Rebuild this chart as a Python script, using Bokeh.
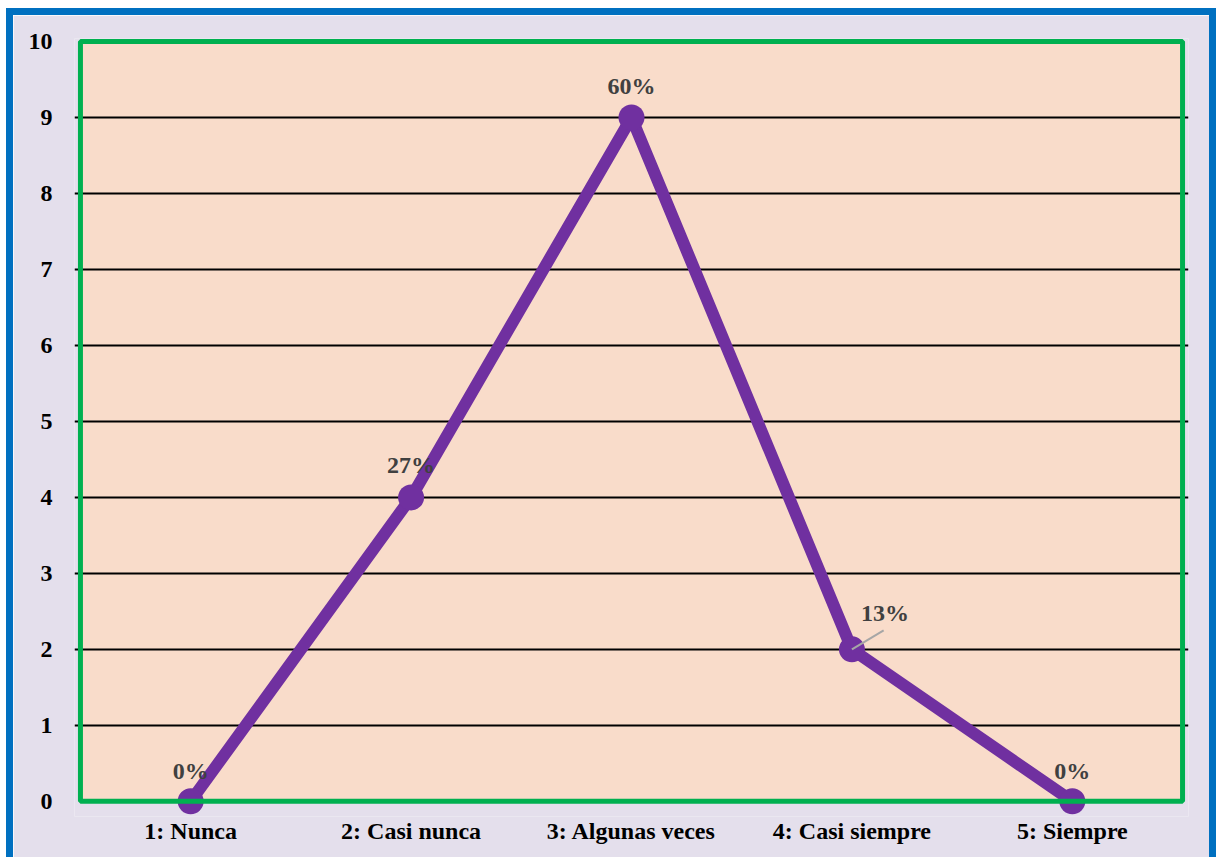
from bokeh.plotting import figure
from bokeh.models import ColumnDataSource, FactorRange, Range1d, FixedTicker, BoxAnnotation
from bokeh.core.properties import value
from bokeh.embed import file_html
from bokeh.resources import INLINE

categories = ["1: Nunca", "2: Casi nunca", "3: Algunas veces", "4: Casi siempre", "5: Siempre"]
counts = [0, 4, 9, 2, 0]
percent_labels = ["0%", "27%", "60%", "13%", "0%"]
y_ticks = list(range(0, 11))

# style: label offsets in screen pixels
label_dx = [0, 0, 0, 33, 0]
label_dy = [-30, -32, -32, -36, -30]

FONT = "Liberation Serif"
PURPLE = "#7030A0"
PEACH = "#F9DCCA"
LAVENDER = "#E4DFEC"
GREEN = "#00B050"

src = ColumnDataSource(dict(cat=categories, n=counts, lab=percent_labels, dx=label_dx, dy=label_dy))

y_min, y_max = y_ticks[0], y_ticks[-1]

p = figure(
    x_range=FactorRange(*categories, range_padding=0.027, range_padding_units="absolute"),
    y_range=Range1d(y_min - 0.2, y_max + 0.04),
    width=1210, height=849, output_backend="svg", toolbar_location=None,
    min_border_left=61, min_border_right=35, min_border_top=23, min_border_bottom=48,
    background_fill_color=LAVENDER, border_fill_color=LAVENDER,
    styles={"border-style": "solid", "border-color": "#0070C0",
            "border-width": "7px 7px 0 7px",
            "position": "absolute", "left": "6px", "top": "8px"},
)
p.outline_line_color = None

p.xgrid.grid_line_color = None
p.ygrid.grid_line_color = "black"
p.ygrid.grid_line_width = 2
p.ygrid.ticker = FixedTicker(ticks=y_ticks[1:-1])
p.ygrid.level = "underlay"
p.yaxis.ticker = FixedTicker(ticks=y_ticks)

# plot area fill and border (categorical synthetic coords 0..n)
p.add_layout(BoxAnnotation(left=0, right=len(categories), bottom=y_min, top=y_max,
                           fill_color=PEACH, fill_alpha=1, line_color=None,
                           level="image"))
p.add_layout(BoxAnnotation(left=0, right=len(categories), bottom=y_min, top=y_max,
                           fill_color=None, fill_alpha=0,
                           line_color=GREEN, line_width=5, line_alpha=1,
                           level="glyph"))

for ax in (p.xaxis[0], p.yaxis[0]):
    ax.axis_line_color = None
    ax.major_tick_line_color = None
    ax.minor_tick_line_color = None
    ax.major_label_text_font = FONT
    ax.major_label_text_font_style = "bold"
    ax.major_label_text_font_size = "24px"
    ax.major_label_text_color = "black"
p.yaxis.major_label_standoff = 16
p.xaxis.major_label_standoff = -5

p.line(x="cat", y="n", source=src, line_width=12, line_color=PURPLE, line_join="round")
p.scatter(x="cat", y="n", source=src, size=26, fill_color=PURPLE, line_color=None)

# leader line for the 13% label
p.ray(x=[categories[3]], y=[counts[3]], length=37, length_units="screen", angle=0.54,
      line_color="#A6A6A6", line_width=2)

p.text(x="cat", y="n", text="lab", source=src, x_offset="dx", y_offset="dy",
       text_align="center", text_baseline="middle", text_font=value(FONT),
       text_font_style="bold", text_font_size="24px", text_color="#404040")

open("out.html", "w").write(file_html(p, INLINE))
